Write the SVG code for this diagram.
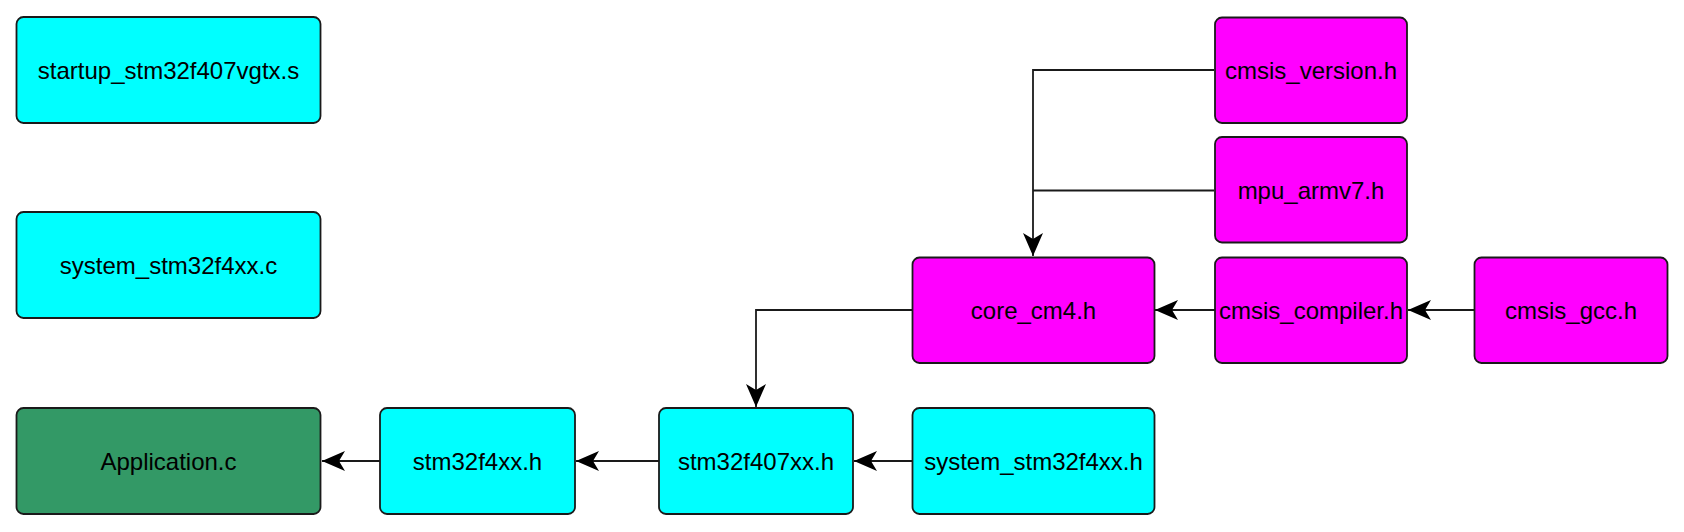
<svg xmlns="http://www.w3.org/2000/svg" width="1684" height="532" viewBox="0 0 1684 532">
<style>
.box{stroke:#1a1a1a;stroke-width:1.8}
.cyan{fill:#00FFFF}
.mag{fill:#FF00FF}
.green{fill:#339966}
.lbl{font-family:"Liberation Sans",Arial,sans-serif;font-size:24px;fill:#000;text-anchor:middle}
.edge{fill:none;stroke:#1a1a1a;stroke-width:1.8}
</style>
<defs>
<marker id="arr" markerUnits="userSpaceOnUse" markerWidth="26" markerHeight="24" viewBox="-24 -12 26 24" refX="0" refY="0" orient="auto">
<path d="M0,0 L-23,-10 L-17,0 L-23,10 Z" fill="#000"/>
</marker>
</defs>
<rect width="1684" height="532" fill="#fff"/>
<g id="edges">
<path class="edge" d="M380,461 H322" marker-end="url(#arr)"/>
<path class="edge" d="M659,461 H576" marker-end="url(#arr)"/>
<path class="edge" d="M912,461 H854" marker-end="url(#arr)"/>
<path class="edge" d="M912,310 H756 V407" marker-end="url(#arr)"/>
<path class="edge" d="M1215,310 H1155" marker-end="url(#arr)"/>
<path class="edge" d="M1474,310 H1408" marker-end="url(#arr)"/>
<path class="edge" d="M1214,70 H1033 V256" marker-end="url(#arr)"/>
<path class="edge" d="M1214,190.5 H1033"/>
</g>
<g id="startup">
<rect class="box cyan" x="16.5" y="17" width="304" height="106" rx="7"/>
<text class="lbl" x="168.5" y="79">startup_stm32f407vgtx.s</text>
</g>
<g id="system_c">
<rect class="box cyan" x="16.5" y="212" width="304" height="106" rx="7"/>
<text class="lbl" x="168.5" y="274">system_stm32f4xx.c</text>
</g>
<g id="application">
<rect class="box green" x="16.5" y="408" width="304" height="106" rx="7"/>
<text class="lbl" x="168.5" y="470">Application.c</text>
</g>
<g id="stm32f4xx">
<rect class="box cyan" x="380" y="408" width="195" height="106" rx="7"/>
<text class="lbl" x="477.5" y="470">stm32f4xx.h</text>
</g>
<g id="stm32f407xx">
<rect class="box cyan" x="659" y="408" width="194" height="106" rx="7"/>
<text class="lbl" x="756" y="470">stm32f407xx.h</text>
</g>
<g id="system_h">
<rect class="box cyan" x="912.5" y="408" width="242" height="106" rx="7"/>
<text class="lbl" x="1033.5" y="470">system_stm32f4xx.h</text>
</g>
<g id="core_cm4">
<rect class="box mag" x="912.5" y="257.5" width="242" height="105.5" rx="7"/>
<text class="lbl" x="1033.5" y="319">core_cm4.h</text>
</g>
<g id="cmsis_compiler">
<rect class="box mag" x="1215" y="257.5" width="192" height="105.5" rx="7"/>
<text class="lbl" x="1311" y="319">cmsis_compiler.h</text>
</g>
<g id="cmsis_gcc">
<rect class="box mag" x="1474.5" y="257.5" width="193" height="105.5" rx="7"/>
<text class="lbl" x="1571" y="319">cmsis_gcc.h</text>
</g>
<g id="cmsis_version">
<rect class="box mag" x="1215" y="17.5" width="192" height="105.5" rx="7"/>
<text class="lbl" x="1311" y="79">cmsis_version.h</text>
</g>
<g id="mpu_armv7">
<rect class="box mag" x="1215" y="137" width="192" height="105.5" rx="7"/>
<text class="lbl" x="1311" y="199">mpu_armv7.h</text>
</g>
</svg>
